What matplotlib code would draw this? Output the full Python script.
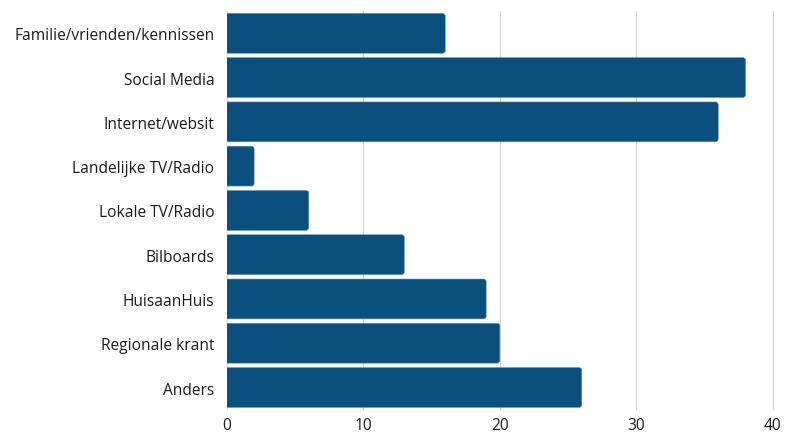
import matplotlib
matplotlib.use('Agg')
import matplotlib.pyplot as plt
from matplotlib.patches import FancyBboxPatch

categories = ["Familie/vrienden/kennissen", "Social Media", "Internet/websit",
              "Landelijke TV/Radio", "Lokale TV/Radio", "Bilboards",
              "HuisaanHuis", "Regionale krant", "Anders"]
values = [16, 38, 36, 2, 6, 13, 19, 20, 26]
xticks = [0, 10, 20, 30, 40]

plt.rcParams['font.family'] = ['Open Sans', 'DejaVu Sans']

fig = plt.figure(figsize=(7.85, 4.35), dpi=100)
ax = fig.add_axes([0.289, 0.056, 0.7007, 0.916])

color = "#0b4f7f"
bar_h = 0.9
n = len(categories)
# px per data unit, to keep the corner round
aspect = (0.7007 * 785 / 40.3) / (0.916 * 435 / n)
for i, v in enumerate(values):
    y = i - bar_h / 2
    box = FancyBboxPatch((-1, y), v + 1, bar_h,
                         boxstyle="round,pad=0,rounding_size=0.2",
                         mutation_aspect=aspect,
                         facecolor=color, edgecolor="#5f8db0", linewidth=0.4,
                         zorder=3)
    ax.add_patch(box)

ax.set_xlim(0, 40.3)
ax.set_ylim(n - 0.5, -0.5)
ax.set_yticks(range(n))
ax.set_yticklabels(categories, fontsize=11.2, color="#1a1a1a")
ax.set_xticks(xticks)
ax.set_xticklabels([str(t) for t in xticks], fontsize=11.2, color="#1a1a1a")
ax.tick_params(length=0, pad=5)
ax.tick_params(axis='y', pad=9)
ax.grid(axis='x', color="#d6d6d6", linewidth=0.8, zorder=0)
for s in ax.spines.values():
    s.set_visible(False)

fig.savefig("out.png", dpi=100)
